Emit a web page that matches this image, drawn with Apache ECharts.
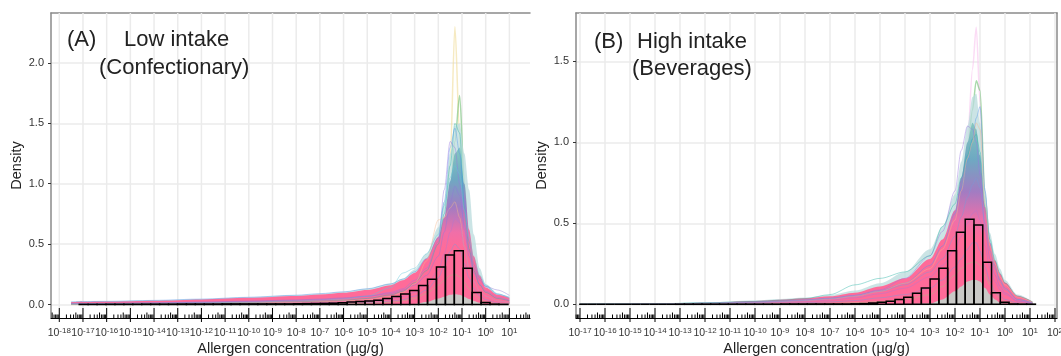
<!DOCTYPE html>
<html>
<head>
<meta charset="utf-8">
<script src="https://cdn.jsdelivr.net/npm/echarts@6/dist/echarts.min.js"></script>
<style>
    html, body { margin: 0; padding: 0; background: #fff; }
    #main { width: 1061px; height: 356px; }
</style>
</head>
<body>
<div id="main"></div>
<script>
(function () {
    //tick labels
    var decadesA = [-18, -17, -16, -15, -14, -13, -12, -11, -10, -9, -8, -7, -6, -5, -4, -3, -2, -1, 0, 1];
    var decadesB = [-17, -16, -15, -14, -13, -12, -11, -10, -9, -8, -7, -6, -5, -4, -3, -2, -1, 0, 1, 2];
    var densityTicksA = [0, 0.5, 1, 1.5, 2];
    var densityTicksB = [0, 0.5, 1, 1.5];
    var logMultiples = [2, 3, 4, 5, 6, 7, 8, 9];

    //(A) x positions of the curves, log10 of the concentration
    var gridA = [-17.5, -16, -14, -12, -10, -8, -7, -6, -5, -4, -3.5, -3, -2.5, -2, -1.75, -1.5, -1.3, -1.1, -0.9, -0.7, -0.5, -0.25, 0, 0.5, 1];
    var paleA = [.023, .027, .035, .046, .061, .078, .09, .106, .132, .175, .215, .29, .42, .64, .85, 1.25, 1.48, 1.5, 1.25, .95, .58, .3, .17, .09, .06];
    var coreA = [.02, .024, .031, .042, .055, .07, .082, .097, .12, .16, .2, .26, .38, .56, .72, 1.02, 1.25, 1.3, 1.0, .62, .4, .24, .14, .08, .055];
    var grayA = [0, 0, 0, 0, 0, 0, 0, 0, 0, 0, .001, .005, .02, .05, .065, .08, .085, .08, .065, .045, .03, .015, .005, 0, 0];
    var yellowA = [.001, .002, .002, .003, .004, .005, .006, .008, .012, .02, .03, .05, .09, .2, .45, 1.2, 2.3, 1.4, .5, .25, .13, .07, .04, .015, .008];
    var greenA = [.002, .003, .005, .007, .01, .014, .017, .022, .03, .05, .07, .12, .2, .38, .6, .95, 1.35, 1.73, 1.0, .42, .22, .12, .07, .03, .015];
    var tealA = [.004, .005, .008, .012, .016, .022, .027, .034, .05, .08, .11, .18, .28, .5, .75, 1.15, 1.5, 1.42, .8, .46, .28, .16, .1, .05, .03];
    var blueA = [.022, .026, .034, .045, .06, .077, .09, .105, .13, .17, .21, .27, .38, .55, .85, 1.3, 1.46, 1.25, .86, .52, .33, .22, .15, .085, .06];
    var purpleA = [.006, .008, .012, .018, .025, .034, .04, .05, .066, .1, .13, .2, .3, .52, .95, 1.35, 1.3, 1.0, .62, .4, .26, .17, .11, .06, .035];
    var orangeA = [.003, .004, .006, .009, .013, .018, .022, .03, .04, .065, .1, .17, .36, .7, .72, .8, .85, .72, .48, .3, .19, .11, .07, .03, .015];
    var cyanA = [.005, .007, .01, .014, .02, .03, .036, .045, .07, .14, .26, .3, .42, .58, .82, 1.05, 1.15, 1.08, .78, .56, .38, .24, .16, .09, .05];
    var oliveA = [.001, .001, .002, .002, .003, .004, .005, .006, .01, .018, .03, .05, .09, .16, .2, .24, .25, .23, .18, .13, .08, .04, .02, .006, .002];
    var violetA = [.008, .01, .014, .02, .028, .038, .045, .055, .07, .09, .12, .16, .24, .4, .6, .84, .98, .9, .66, .44, .3, .2, .15, .12, .075];
    var lilacA = [.002, .003, .004, .006, .009, .012, .015, .02, .028, .045, .065, .1, .16, .28, .42, .6, .72, .68, .48, .3, .19, .11, .07, .03, .015];
    var roseA = [.001, .001, .002, .003, .004, .006, .008, .01, .016, .028, .04, .07, .12, .22, .32, .44, .5, .46, .34, .22, .13, .07, .04, .012, .005];

    //(B) x positions of the curves, log10 of the concentration
    var gridB = [-17, -16, -14, -12, -10, -9, -8, -7, -6, -5, -4, -3, -2.5, -2, -1.75, -1.5, -1.3, -1.15, -1, -.8, -.6, -.4, -.2, 0, .5, 1.1];
    var paleB = [.001, .001, .004, .011, .023, .032, .042, .058, .085, .13, .2, .34, .48, .68, .88, 1.1, 1.28, 1.3, 1.12, .72, .44, .31, .22, .15, .06, .018];
    var coreB = [.0005, .001, .003, .009, .02, .028, .037, .05, .072, .11, .16, .28, .4, .58, .78, 1.0, 1.12, 1.08, .92, .6, .38, .27, .19, .135, .052, .015];
    var grayB = [0, 0, 0, 0, 0, 0, 0, 0, 0, 0, .001, .005, .03, .08, .11, .14, .15, .15, .14, .1, .06, .03, .01, .003, 0, 0];
    var magentaB = [0, 0, .001, .003, .006, .009, .012, .017, .024, .04, .07, .13, .22, .42, .65, 1.0, 1.45, 1.71, 1.25, .6, .28, .15, .08, .05, .015, .003];
    var greenB = [0, 0, .002, .005, .01, .014, .02, .03, .045, .07, .12, .2, .32, .55, .72, .95, 1.2, 1.38, 1.32, .68, .34, .2, .12, .08, .025, .006];
    var blueB = [0, .001, .003, .007, .014, .02, .027, .038, .055, .085, .13, .24, .36, .56, .72, .88, 1.02, 1.15, 1.22, .7, .38, .24, .15, .1, .03, .008];
    var purpleB = [0, 0, .002, .006, .012, .018, .025, .036, .055, .09, .16, .3, .45, .7, .95, 1.1, 1.08, 1.0, .8, .46, .28, .18, .11, .07, .02, .005];
    var tealB = [0, .001, .003, .009, .018, .025, .035, .06, .12, .16, .2, .3, .48, .62, .78, .92, 1.02, 1.05, .94, .6, .4, .27, .19, .13, .05, .014];
    var orangeB = [0, 0, .002, .005, .01, .015, .022, .032, .05, .08, .13, .22, .34, .52, .7, .9, 1.0, 1.12, 1.08, .62, .36, .25, .17, .12, .045, .012];
    var oliveB = [0, 0, 0, .001, .002, .003, .004, .006, .01, .017, .03, .06, .11, .18, .22, .25, .26, .26, .24, .18, .12, .07, .035, .014, .003, 0];
    var cyanB = [0, .001, .002, .006, .012, .017, .024, .034, .05, .08, .12, .2, .28, .42, .54, .66, .74, .78, .72, .5, .33, .22, .14, .09, .03, .008];
    var lilacB = [0, 0, .001, .004, .009, .013, .018, .026, .04, .065, .1, .17, .24, .34, .42, .5, .56, .58, .52, .36, .22, .14, .09, .06, .02, .004];
    var roseB = [0, 0, .001, .002, .005, .007, .01, .015, .023, .04, .06, .1, .15, .23, .28, .34, .38, .38, .33, .23, .14, .08, .05, .03, .008, .002];

    //histogram heights, left bin first
    var histA = [.001, .001, .001, .002, .002, .002, .002, .003, .003, .003, .003, .004, .004, .004, .004, .004, .005, .005, .005, .005, .005, .005, .005, .005, .006, .007, .008, .009, .011, .014, .02, .025, .03, .036, .05, .066, .086, .116, .157, .21, .31, .41, .445, .3, .1, .017, .003, .001];
    var histB = [0, 0, 0, 0, 0, 0, 0, 0, 0, 0, 0, .001, .001, .001, .001, .001, .001, .001, .001, .001, .001, .001, .001, .002, .002, .002, .002, .002, .002, .002, .002, .003, .004, .008, .012, .019, .029, .043, .068, .1, .156, .222, .33, .445, .525, .49, .26, .072, .012, .002, .001, .001];

    var HUES = { teal: '#2fb5a8', blue: '#5b96e8', green: '#6fbf73', yellow: '#f0dc9a', orange: '#f5b98e', purple: '#9a78e0', magenta: '#f9c4ee', olive: '#a8bf80', cyan: '#62c6da' };

    var myChart = echarts.init(document.getElementById('main'));

    var TEXT = 'Liberation Sans';

    function pairs(xs, ys) {
        return xs.map(function (x, i) { return [x, ys[i]]; });
    }

    //log ticks in a rug, long at the decade, middle at 5, short otherwise
    function rugTicks(decades, min, max, yMin) {
        var out = [];
        decades.concat([decades[0] - 1, decades[decades.length - 1] + 1]).forEach(function (d) {
            if (d >= min && d <= max) out.push([d, yMin, 10, 4]);
            logMultiples.forEach(function (m) {
                var x = d + Math.log10(m);
                if (x >= min && x <= max) out.push([x, yMin, m === 5 ? 5.5 : 3.5, 0]);
            });
        });
        return out;
    }

    function renderRug(params, api) {
        var p = api.coord([api.value(0), api.value(1)]);
        return {
            type: 'line',
            shape: { x1: p[0], y1: p[1] - api.value(2), x2: p[0], y2: p[1] + api.value(3) },
            style: { stroke: '#000', lineWidth: 1 }
        };
    }

    function renderGridLine(params, api) {
        var p = api.coord([api.value(0), api.value(1)]);
        var q = api.coord([api.value(0), api.value(2)]);
        return {
            type: 'line',
            shape: { x1: p[0], y1: p[1], x2: q[0], y2: q[1] },
            style: { stroke: '#ebebeb', lineWidth: 1.5 }
        };
    }

    function renderBin(params, api) {
        var half = api.value(2) / 2;
        var p = api.coord([api.value(0) - half, api.value(1)]);
        var q = api.coord([api.value(0) + half, 0]);
        return {
            type: 'rect',
            shape: { x: p[0], y: p[1], width: q[0] - p[0], height: q[1] - p[1] },
            style: { fill: null, stroke: '#000', lineWidth: 1.5 }
        };
    }

    function lineSeries(i, grid, values, color, width, opacity, z) {
        return {
            type: 'line', xAxisIndex: i * 2, yAxisIndex: i * 2, data: pairs(grid, values), z: z,
            smooth: 0.3, smoothMonotone: 'x', showSymbol: false, silent: true,
            lineStyle: { color: color, width: width, opacity: opacity }
        };
    }

    function areaSeries(i, grid, values, color, opacity, z) {
        var s = lineSeries(i, grid, values, '#fff', 0, 0, z);
        s.areaStyle = { color: color, opacity: opacity };
        return s;
    }

    //pink low down, going purple, blue then teal towards the peak
    function coreFill(top) {
        var stop = function (v) { return 1 - v / top; };
        return new echarts.graphic.LinearGradient(0, 0, 0, 1, [
            { offset: 0, color: '#86c6bf' },
            { offset: stop(top * 0.8), color: '#6ea9c2' },
            { offset: stop(top * 0.62), color: '#a27cc2' },
            { offset: stop(top * 0.46), color: '#f06fa8' },
            { offset: stop(top * 0.36), color: '#ff6b99' },
            { offset: 1, color: '#ff6b99' }
        ]);
    }

    function xAxes(i, decades, min, max) {
        return [{
            type: 'value', gridIndex: i, min: min, max: max, position: 'bottom',
            name: 'Allergen concentration (µg/g)', nameLocation: 'middle', nameGap: 23, nameMoveOverlap: false,
            nameTextStyle: { fontFamily: TEXT, fontSize: 14.5, color: '#222' },
            axisLine: { onZero: false, lineStyle: { color: '#000', width: 1 } },
            axisTick: { show: false },
            axisLabel: {
                customValues: decades, margin: 9, hideOverlap: false, showMinLabel: true, showMaxLabel: true,
                fontFamily: TEXT, fontSize: 10.5, color: '#333',
                formatter: function (v) { return '10{s|' + v + '}'; },
                rich: { s: { fontSize: 8, fontFamily: TEXT, color: '#333', verticalAlign: 'top', padding: [0, 0, 5, 0] } }
            },
            splitLine: { show: false }
        }, {
            type: 'value', gridIndex: i, min: min, max: max, position: 'top',
            axisLine: { onZero: false, lineStyle: { color: '#8a8a8a', width: 1.5 } },
            axisTick: { show: false }, axisLabel: { show: false }, splitLine: { show: false }
        }];
    }

    function yAxes(i, ticks, min, max, rightBorder) {
        return [{
            type: 'value', gridIndex: i, min: min, max: max, position: 'left',
            name: 'Density', nameLocation: 'middle', nameGap: 27, nameMoveOverlap: false,
            nameTextStyle: { fontFamily: TEXT, fontSize: 14.5, color: '#222' },
            axisLine: { onZero: false, lineStyle: { color: '#8a8a8a', width: 1.5 } },
            axisTick: { customValues: ticks, length: 3, lineStyle: { color: '#333' } },
            axisLabel: {
                customValues: ticks, margin: 7, fontFamily: TEXT, fontSize: 11, color: '#333',
                formatter: function (v) { return v.toFixed(1); }
            },
            splitLine: { show: true, lineStyle: { color: '#ebebeb', width: 1.5 } }
        }, {
            type: 'value', gridIndex: i, min: min, max: max, position: 'right',
            axisLine: { show: rightBorder, onZero: false, lineStyle: { color: '#8a8a8a', width: 1.5 } },
            axisTick: { show: false }, axisLabel: { show: false }, splitLine: { show: false }
        }];
    }

    function panelSeries(i, grid, pale, core, gray, strandsUnder, strandsOver, hist, binStart, binStep, decades, xMin, xMax, yMin, yMax) {
        var s = [];
        s.push({
            type: 'custom', xAxisIndex: i * 2, yAxisIndex: i * 2, silent: true, z: 1, renderItem: renderGridLine,
            encode: { x: 0, y: 1 }, data: decades.map(function (d) { return [d, yMin, yMax]; })
        });
        strandsUnder.forEach(function (c) { s.push(lineSeries(i, grid, c[0], c[1], 1.5, 0.6, 2)); });
        s.push(areaSeries(i, grid, pale, '#b9dbdc', 0.75, 3));
        s.push(areaSeries(i, grid, core, coreFill(Math.max.apply(null, core)), 1, 4));
        strandsOver.forEach(function (c) { s.push(lineSeries(i, grid, c[0], c[1], 1, 0.45, 5)); });
        s.push(areaSeries(i, grid, gray, '#c9c9c6', 1, 6));
        s.push({
            type: 'custom', xAxisIndex: i * 2, yAxisIndex: i * 2, silent: true, z: 7, renderItem: renderBin,
            encode: { x: 0, y: 1 },
            data: hist.map(function (h, k) { return [binStart + k * binStep, h, binStep]; })
        });
        s.push({
            type: 'custom', xAxisIndex: i * 2, yAxisIndex: i * 2, silent: true, z: 8, renderItem: renderRug,
            encode: { x: 0, y: 1 }, data: rugTicks(decades, xMin, xMax, yMin)
        });
        return s;
    }

    function label(text, left, top) {
        return {
            type: 'text', left: left, top: top, silent: true, z: 100,
            style: { text: text, fontFamily: TEXT, fontSize: 22, fill: '#222' }
        };
    }

    var seriesA = panelSeries(0, gridA, paleA, coreA, grayA,
        [[yellowA, HUES.yellow], [greenA, HUES.green]],
        [[tealA, HUES.teal], [blueA, HUES.blue], [purpleA, HUES.purple], [orangeA, HUES.orange], [cyanA, HUES.cyan], [violetA, '#8f7ad8'], [lilacA, '#b277d0'], [roseA, '#7f9ad8'], [oliveA, HUES.olive]],
        histA, -16.97, 0.377, decadesA, -18.35, 1.87, -0.1118, 2.414);

    var seriesB = panelSeries(1, gridB, paleB, coreB, grayB,
        [[magentaB, HUES.magenta], [greenB, HUES.green]],
        [[blueB, HUES.blue], [purpleB, HUES.purple], [tealB, HUES.teal], [orangeB, HUES.orange], [cyanB, '#7a9ad8'], [lilacB, '#b277d0'], [roseB, '#7f9ad8'], [oliveB, HUES.olive]],
        histB, -16.86, 0.351, decadesB, -17.16, 2.08, -0.0846, 1.798);

    var option = {
        animation: false,
        backgroundColor: '#fff',
        grid: [
            { left: 51, top: 13, width: 479, height: 305, outerBoundsMode: 'none' },
            { left: 576, top: 13, width: 481, height: 305, outerBoundsMode: 'none' }
        ],
        xAxis: xAxes(0, decadesA, -18.35, 1.87).concat(xAxes(1, decadesB, -17.16, 2.08)),
        yAxis: yAxes(0, densityTicksA, -0.1118, 2.414, false).concat(yAxes(1, densityTicksB, -0.0846, 1.798, true)),
        series: seriesA.concat(seriesB),
        graphic: [
            label('(A)', 67, 29),
            label('Low intake', 124, 29),
            label('(Confectionary)', 99, 57),
            label('(B)', 594, 31),
            label('High intake', 637, 31),
            label('(Beverages)', 632, 58)
        ]
    };

    myChart.setOption(option);
})()
</script>
</body>
</html>
